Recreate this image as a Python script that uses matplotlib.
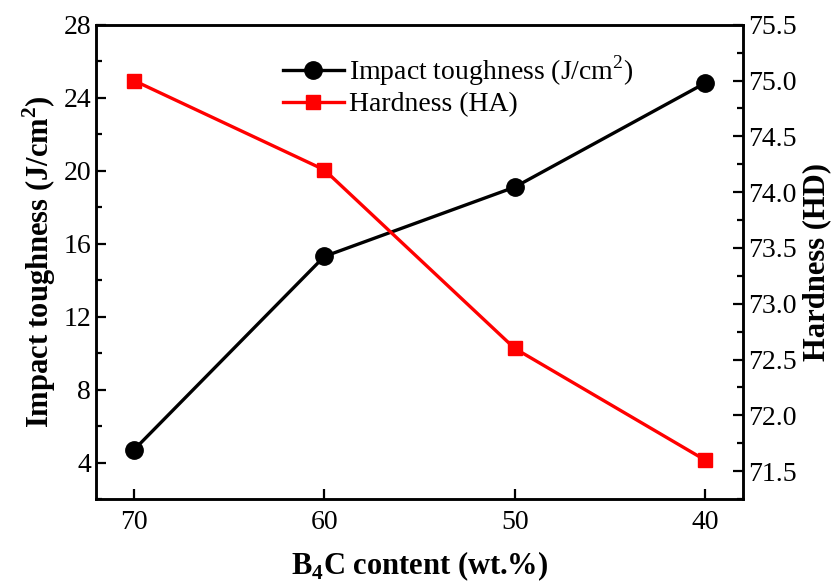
import matplotlib
matplotlib.use("Agg")
import matplotlib.pyplot as plt
from matplotlib.ticker import MultipleLocator

plt.rcParams['font.family'] = ['Liberation Serif', 'DejaVu Serif']
plt.rcParams['mathtext.fontset'] = 'custom'
plt.rcParams['mathtext.rm'] = 'Liberation Serif'
plt.rcParams['mathtext.bf'] = 'Liberation Serif:bold'

b4c_content = [70, 60, 50, 40]
impact_toughness = [4.7, 15.3, 19.1, 24.8]
hardness = [75.0, 74.2, 72.6, 71.6]

fig = plt.figure(figsize=(8.33, 5.81), dpi=100)
ax = fig.add_axes([0.1152, 0.1411, 0.7768, 0.8162])
ax2 = ax.twinx()

l1, = ax.plot(b4c_content, impact_toughness, color='black', lw=2.4, marker='o',
              markersize=12.5, label='Impact toughness (J/cm$^2$)')
l2, = ax2.plot(b4c_content, hardness, color='red', lw=2.4, marker='s',
               markersize=10.5, label='Hardness (HA)')

ax.set_xlim(72, 38)
ax.set_xticks(b4c_content)
ax.set_ylim(2, 28)
ax.yaxis.set_major_locator(MultipleLocator(4))
ax.yaxis.set_minor_locator(MultipleLocator(2))
ax2.set_ylim(71.25, 75.5)
ax2.yaxis.set_major_locator(MultipleLocator(0.5))
ax2.yaxis.set_minor_locator(MultipleLocator(0.25))
ax2.yaxis.set_major_formatter(matplotlib.ticker.FormatStrFormatter('%.1f'))

for a in (ax, ax2):
    a.tick_params(which='major', direction='in', length=7, width=1.6, labelsize=20)
    a.tick_params(which='minor', direction='in', length=4, width=1.6)
    for s in a.spines.values():
        s.set_linewidth(1.8)
ax.tick_params(axis='x', pad=8)

ax.set_xlabel('B$_\\mathbf{4}$C content (wt.%)', fontsize=22, fontweight='bold', labelpad=10)
ax.set_ylabel('Impact toughness (J/cm$^\\mathbf{2}$)', fontsize=22, fontweight='bold')
ax2.set_ylabel('Hardness (HD)', fontsize=22, fontweight='bold')

ax.legend(handles=[l1, l2], loc='upper center', bbox_to_anchor=(0.56, 0.975), frameon=False,
          fontsize=20, handlelength=2.2, handletextpad=0.2, labelspacing=0.15, borderaxespad=0.2)

fig.savefig('out.png', dpi=100)
